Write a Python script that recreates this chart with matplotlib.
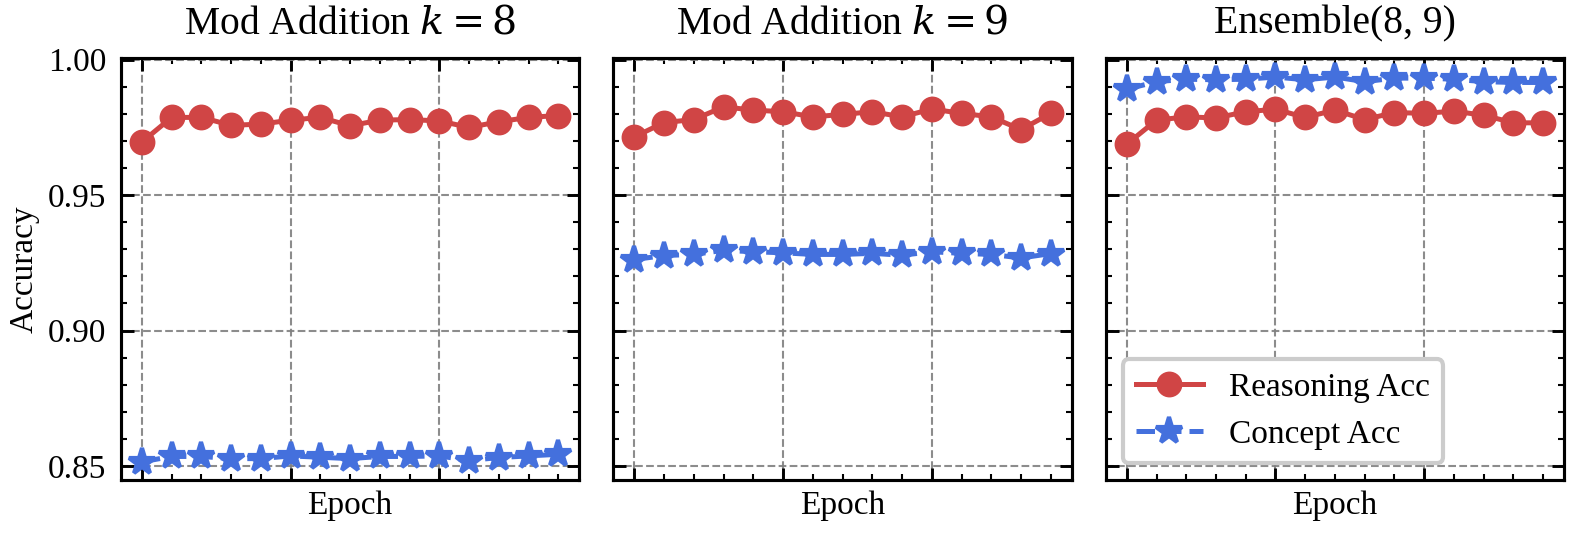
import numpy as np
import matplotlib
matplotlib.use('Agg')
import matplotlib.pyplot as plt
from matplotlib.ticker import MultipleLocator

plt.rcParams['font.family'] = 'serif'
plt.rcParams['font.serif'] = ['Liberation Serif', 'DejaVu Serif']
plt.rcParams['mathtext.fontset'] = 'dejavuserif'
plt.rcParams['font.size'] = 8

titles = ['Mod Addition $k=8$', 'Mod Addition $k=9$', 'Ensemble(8, 9)']

reasoning_k8 = [0.9696, 0.9787, 0.9787, 0.9758, 0.9762, 0.9777, 0.9787, 0.9756,
                0.9777, 0.9779, 0.9774, 0.9750, 0.9771, 0.9787, 0.9794]
concept_k8 = [0.8515, 0.8535, 0.8535, 0.8527, 0.8527, 0.8537, 0.8532, 0.8527,
              0.8535, 0.8535, 0.8537, 0.8520, 0.8531, 0.8537, 0.8543]

reasoning_k9 = [0.9715, 0.9768, 0.9779, 0.9826, 0.9814, 0.9808, 0.9789, 0.9798,
                0.9808, 0.9789, 0.9818, 0.9802, 0.9789, 0.9742, 0.9802]
concept_k9 = [0.9262, 0.9277, 0.9281, 0.9296, 0.9291, 0.9287, 0.9281, 0.9281,
              0.9285, 0.9278, 0.9291, 0.9285, 0.9281, 0.9268, 0.9284]

reasoning_ens = [0.9688, 0.9777, 0.9789, 0.9785, 0.9808, 0.9817, 0.9787, 0.9814,
                 0.9779, 0.9805, 0.9802, 0.9810, 0.9795, 0.9767, 0.9767]
concept_ens = [0.9891, 0.9919, 0.9928, 0.9926, 0.9928, 0.9936, 0.9926, 0.9936,
               0.9919, 0.9932, 0.9932, 0.9928, 0.9919, 0.9916, 0.9916]

reasoning = [reasoning_k8, reasoning_k9, reasoning_ens]
concept = [concept_k8, concept_k9, concept_ens]
epochs = np.arange(len(reasoning_k8))

red = '#d04545'
blue = '#4470dd'

fig, axes = plt.subplots(1, 3, figsize=(1576 / 300, 533 / 300), dpi=300, sharey=True)
fig.subplots_adjust(left=0.0768, right=0.9924, top=0.891, bottom=0.0994, wspace=0.075)

for i, ax in enumerate(axes):
    ax.plot(epochs, reasoning[i], '-o', color=red, lw=1.2, ms=5.2, label='Reasoning Acc')
    ax.plot(epochs, concept[i], '--*', color=blue, lw=1.2, ms=6.5, label='Concept Acc')
    ax.set_title(titles[i], fontsize=9.5)
    ax.set_xlabel('Epoch', labelpad=2.5)
    ax.xaxis.set_major_locator(MultipleLocator(5))
    ax.xaxis.set_minor_locator(MultipleLocator(1))
    ax.yaxis.set_major_locator(MultipleLocator(0.05))
    ax.yaxis.set_minor_locator(MultipleLocator(0.01))
    ax.tick_params(which='both', direction='in', top=True, right=True, labelbottom=False)
    ax.tick_params(which='major', length=3, width=0.7)
    ax.tick_params(which='minor', length=1.5, width=0.5)
    for s in ax.spines.values():
        s.set_linewidth(0.75)
    ax.grid(True, which='major', linestyle='--', color='gray', linewidth=0.5, alpha=0.9)
    ax.set_axisbelow(True)

axes[0].set_ylim(0.8448, 1.0006)
axes[0].set_ylabel('Accuracy', labelpad=2)
axes[0].yaxis.set_major_formatter(matplotlib.ticker.FormatStrFormatter('%.2f'))
axes[2].legend(loc='lower left', framealpha=1, edgecolor='#cccccc', fancybox=True)

fig.savefig('out.png', dpi=300)
